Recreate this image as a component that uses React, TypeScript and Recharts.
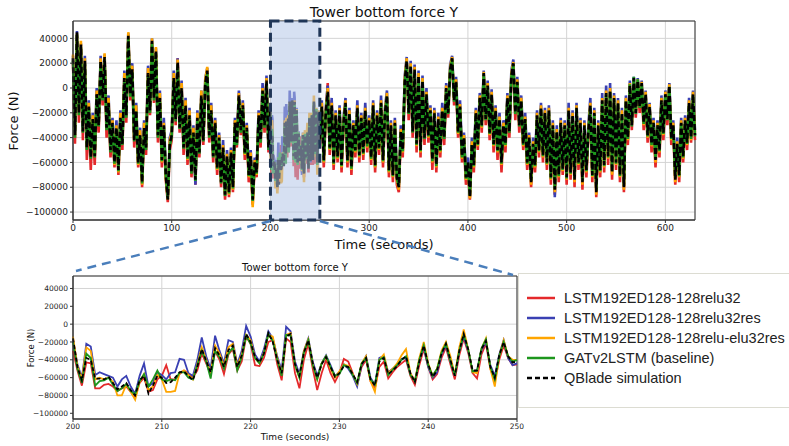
import React from "react";
import { LineChart, Line, XAxis, YAxis, CartesianGrid, ReferenceArea } from "recharts";

// Tower bottom force Y, kN. Overview arrays: every 2 s for 0–198 s, then 252–630 s
// (the 200–250 s window comes from the zoom arrays below).
const redTop = [
  20, -45, 42, -28, 32, -42, 18, -58, -22, -66,
  -30, -62, -10, -36, 18, -14, 20, -40, -18, -56,
  -32, -64, -36, -70, -28, -50, 4, -28, 40, -10,
  12, -48, -22, -64, -42, -80, -36, -54, 8, -22,
  36, -12, 27, -44, -12, -64, -34, -74, -92, -50,
  -42, 4, -30, 24, -36, -4, -54, -18, -62, -26,
  -72, -40, -78, -28, -56, -10, -46, 0, 10, -44,
  -22, -60, -32, -70, -44, -80, -52, -90, -60, -88,
  -56, -84, -32, -48, -10, -38, -18, -58, -36, -76,
  -60, -94, -64, -72, -26, -48, -6, -36, 2, -52,
  -18, -64, -24, 4, -54, -10, -66, -26, -60, -22,
  -68, -32, -16, -64, -24, -70, -34, -56, -20, -60,
  -28, -58, -22, -52, -30, -62, -18, -68, -26, -54,
  -16, -64, -24, -10, -72, -34, -76, -32, -78, -84,
  -40, -56, 0, 20, -26, 14, -40, 12, -52, 6,
  -56, 2, -46, -10, -44, -22, -66, -24, -68, -30,
  -56, -22, -46, -4, -24, 12, 22, -14, 2, -40,
  -20, -60, -46, -78, -66, -90, -50, -68, -24, -50,
  -12, -36, 10, -30, -2, -42, -10, -52, -22, -58,
  -30, -68, -34, -52, -12, -40, 6, 18, -26, 2,
  -36, -14, -50, -30, -66, -44, -80, -50, -68, -26,
  -56, -20, -60, -24, -66, -22, -78, -34, -86, -40,
  -76, -32, -70, -34, -78, -22, -74, -26, -80, -20,
  -66, -32, -82, -34, -72, -40, -18, -76, -24, -88,
  -36, -72, -14, -68, -8, -62, -6, -74, -12, -66,
  -16, -76, -24, -84, -14, -46, -2, -34, 4, -24,
  2, -20, 0, -34, -9, -44, -20, -52, -32, -64,
  -34, -56, -14, -42, -9, -30, -2, -46, -34, -78,
  -50, -76, -32, -60, -30, -50, -16, -44, -9, -42,
];

const blueTop = [
  26, -36, 46, -16, 36, -32, 26, -44, -10, -52,
  -20, -50, 0, -26, 26, -4, 27, -28, -6, -46,
  -24, -56, -26, -62, -18, -40, 14, -16, 44, 0,
  20, -38, -12, -56, -32, -72, -26, -44, 18, -12,
  40, -4, 32, -34, -2, -54, -24, -66, -88, -40,
  -34, 14, -20, 24, -26, 6, -42, -8, -52, -16,
  -62, -30, -78, -18, -48, -2, -36, 8, 16, -34,
  -12, -50, -24, -60, -36, -72, -42, -82, -50, -80,
  -48, -76, -24, -40, -2, -30, -10, -48, -28, -66,
  -50, -86, -56, -64, -18, -38, 4, -26, 10, -44,
  -10, -54, -16, 2, -44, -8, -56, -18, -50, -14,
  -58, -24, -8, -54, -16, -60, -26, -46, -10, -50,
  -20, -48, -12, -42, -22, -52, -10, -58, -18, -44,
  -6, -54, -16, -2, -62, -26, -68, -24, -68, -78,
  -30, -46, 10, 25, -16, 22, -30, 19, -40, 14,
  -46, 10, -36, 0, -34, -14, -54, -16, -58, -20,
  -46, -12, -36, 4, -16, 19, 26, -6, 9, -30,
  -10, -50, -36, -68, -56, -86, -40, -58, -16, -40,
  -4, -26, 14, -20, 6, -32, -1, -40, -14, -46,
  -20, -56, -26, -40, -4, -30, 14, 23, -16, 9,
  -26, -6, -40, -20, -56, -36, -72, -40, -58, -18,
  -46, -12, -50, -16, -56, -14, -68, -26, -88, -30,
  -66, -24, -60, -26, -68, -12, -64, -18, -70, -12,
  -56, -24, -72, -26, -62, -30, -8, -66, -16, -80,
  -26, -62, -4, -58, 2, -50, 4, -64, -4, -56,
  -8, -66, -16, -76, -6, -36, 6, -26, 9, -16,
  8, -12, 6, -24, -2, -34, -12, -42, -24, -54,
  -26, -46, -6, -32, -2, -20, 4, -36, -26, -70,
  -40, -66, -24, -50, -22, -40, -8, -36, -2, -34,
];

const orangeTop = [
  27, -34, 44, -18, 38, -30, 24, -46, -12, -54,
  -22, -52, -2, -28, 24, -6, 28, -30, -8, -48,
  -26, -62, -30, -68, -20, -42, 12, -18, 45, -2,
  18, -40, -14, -62, -34, -78, -28, -46, 16, -14,
  40, -6, 33, -36, -4, -60, -28, -72, -90, -42,
  -36, 12, -22, 23, -28, 4, -46, -10, -58, -18,
  -66, -32, -72, -20, -50, -2, -40, 7, 17, -36,
  -14, -53, -26, -66, -38, -74, -46, -84, -53, -86,
  -50, -82, -26, -42, -4, -32, -12, -54, -30, -72,
  -52, -96, -58, -70, -20, -40, 0, -28, 8, -46,
  -12, -60, -18, 0, -50, -12, -62, -20, -57, -16,
  -64, -26, -10, -60, -18, -66, -28, -52, -14, -56,
  -22, -54, -16, -48, -24, -58, -12, -64, -20, -50,
  -10, -60, -18, -4, -68, -28, -72, -26, -74, -82,
  -33, -52, 8, 24, -18, 20, -33, 17, -47, 12,
  -52, 8, -38, -3, -40, -16, -60, -18, -64, -23,
  -52, -16, -38, 2, -18, 17, 25, -8, 7, -37,
  -13, -57, -38, -74, -62, -89, -43, -64, -18, -47,
  -6, -32, 13, -23, 4, -38, -3, -47, -16, -52,
  -23, -62, -28, -47, -6, -33, 12, 21, -18, 7,
  -28, -8, -47, -23, -62, -38, -78, -43, -64, -20,
  -52, -14, -56, -18, -62, -16, -74, -28, -84, -33,
  -72, -26, -67, -28, -74, -16, -70, -20, -76, -14,
  -62, -26, -78, -28, -68, -33, -12, -72, -18, -86,
  -28, -68, -8, -64, -2, -57, 0, -70, -6, -62,
  -10, -72, -18, -82, -8, -42, 4, -28, 7, -18,
  7, -14, 5, -30, -3, -40, -13, -47, -26, -60,
  -28, -52, -8, -38, -3, -23, 3, -42, -28, -76,
  -43, -72, -26, -57, -24, -46, -10, -42, -3, -36,
];

const greenTop = [
  22, -40, 43, -22, 33, -36, 20, -50, -16, -57,
  -26, -56, -6, -31, 20, -10, 23, -34, -13, -52,
  -29, -61, -33, -67, -25, -46, 6, -24, 40, -7,
  13, -43, -19, -61, -39, -77, -33, -50, 10, -20,
  36, -10, 28, -40, -10, -59, -31, -71, -89, -47,
  -39, 6, -27, 19, -33, -2, -49, -16, -57, -24,
  -69, -37, -75, -26, -53, -8, -43, 2, 12, -40,
  -20, -56, -30, -65, -42, -77, -50, -87, -56, -85,
  -53, -81, -30, -46, -8, -36, -16, -53, -34, -71,
  -56, -91, -61, -69, -24, -44, -4, -32, 4, -50,
  -16, -59, -21, -4, -49, -15, -61, -23, -56, -19,
  -63, -29, -13, -59, -21, -65, -31, -51, -17, -55,
  -25, -53, -19, -47, -27, -57, -15, -63, -23, -49,
  -13, -59, -21, -7, -67, -31, -71, -29, -73, -79,
  -36, -51, 3, 21, -21, 17, -36, 14, -46, 8,
  -51, 5, -41, -6, -39, -19, -59, -21, -63, -26,
  -51, -19, -41, -1, -21, 14, 23, -11, 4, -36,
  -16, -56, -41, -73, -61, -87, -46, -63, -21, -46,
  -9, -31, 11, -26, 1, -37, -6, -46, -19, -51,
  -26, -61, -31, -46, -9, -36, 9, 19, -21, 4,
  -31, -11, -46, -26, -61, -41, -75, -46, -63, -23,
  -51, -17, -55, -21, -61, -19, -73, -31, -81, -36,
  -71, -29, -66, -31, -73, -19, -69, -23, -73, -17,
  -61, -29, -75, -31, -67, -36, -15, -71, -21, -83,
  -31, -67, -11, -63, -5, -56, -3, -67, -9, -61,
  -13, -71, -21, -79, -11, -41, 3, -31, 9, -21,
  7, -16, 3, -29, -6, -39, -16, -46, -29, -57,
  -31, -51, -11, -37, -6, -26, 1, -41, -31, -73,
  -46, -71, -29, -56, -27, -45, -13, -41, -6, -39,
];

const qbladeTop = [
  24, -38, 45, -20, 35, -35, 22, -48, -15, -56,
  -25, -55, -5, -30, 22, -8, 25, -32, -12, -50,
  -28, -60, -32, -66, -24, -45, 8, -22, 42, -5,
  15, -42, -18, -60, -38, -76, -32, -48, 12, -18,
  38, -8, 30, -38, -8, -58, -30, -70, -90, -45,
  -38, 8, -25, 21, -32, 0, -48, -14, -56, -22,
  -68, -36, -74, -24, -52, -6, -42, 4, 14, -38,
  -18, -55, -28, -64, -40, -76, -48, -86, -55, -84,
  -52, -80, -28, -44, -6, -34, -14, -52, -32, -70,
  -55, -90, -60, -68, -22, -42, -2, -30, 6, -48,
  -15, -58, -20, -3, -48, -14, -60, -22, -55, -18,
  -62, -28, -12, -58, -20, -64, -30, -50, -16, -54,
  -24, -52, -18, -46, -26, -56, -14, -62, -22, -48,
  -12, -58, -20, -6, -66, -30, -70, -28, -72, -80,
  -35, -50, 5, 22, -20, 18, -35, 15, -45, 10,
  -50, 6, -40, -5, -38, -18, -58, -20, -62, -25,
  -50, -18, -40, 0, -20, 15, 24, -10, 5, -35,
  -15, -55, -40, -72, -60, -88, -45, -62, -20, -45,
  -8, -30, 12, -25, 2, -36, -5, -45, -18, -50,
  -25, -60, -30, -45, -8, -35, 10, 20, -20, 5,
  -30, -10, -45, -25, -60, -40, -76, -45, -62, -22,
  -50, -16, -54, -20, -60, -18, -72, -30, -82, -35,
  -70, -28, -65, -30, -72, -18, -68, -22, -74, -16,
  -60, -28, -76, -30, -66, -35, -14, -70, -20, -84,
  -30, -66, -10, -62, -4, -55, -2, -68, -8, -60,
  -12, -70, -20, -80, -10, -40, 2, -30, 8, -20,
  6, -15, 4, -28, -5, -38, -15, -45, -28, -58,
  -30, -50, -10, -36, -5, -25, 2, -40, -30, -74,
  -45, -70, -28, -55, -26, -44, -12, -40, -5, -38,
];

// Zoom window 200–250 s, every 0.5 s, kN
const redZoom = [
  -30, -52, -69, -43, -44, -72, -72, -68, -67, -70,
  -75, -72, -70, -76, -82, -66, -60, -76, -74, -62,
  -58, -46, -62, -62, -56, -52, -55, -60, -52, -33,
  -44, -56, -30, -40, -56, -34, -28, -52, -42, -14,
  -22, -46, -47, -38, -20, -18, -45, -63, -16, -20,
  -55, -72, -40, -22, -50, -74, -55, -40, -55, -65,
  -55, -39, -42, -55, -68, -48, -40, -64, -72, -48,
  -42, -61, -54, -48, -44, -40, -58, -68, -46, -28,
  -48, -62, -56, -38, -26, -45, -62, -35, -16, -32,
  -55, -61, -34, -22, -50, -64, -40, -24, -38, -46,
  -45,
];

const blueZoom = [
  -18, -45, -60, -22, -25, -57, -54, -56, -58, -60,
  -70, -62, -58, -70, -78, -58, -44, -70, -66, -54,
  -57, -62, -55, -54, -39, -40, -55, -58, -40, -15,
  -36, -50, -13, -30, -44, -18, -20, -45, -30, -2,
  -14, -34, -42, -28, -8, -16, -36, -52, -3, -8,
  -42, -56, -30, -16, -42, -58, -44, -35, -46, -58,
  -54, -45, -50, -58, -70, -46, -36, -60, -68, -38,
  -36, -54, -50, -46, -39, -38, -56, -64, -40, -26,
  -48, -60, -54, -34, -24, -42, -58, -30, -14, -30,
  -54, -53, -30, -20, -46, -58, -34, -18, -38, -46,
  -44,
];

const orangeZoom = [
  -14, -47, -62, -26, -30, -62, -60, -62, -60, -65,
  -80, -80, -68, -76, -85, -65, -56, -74, -70, -57,
  -62, -76, -76, -75, -55, -52, -57, -62, -45, -26,
  -40, -55, -24, -33, -47, -26, -22, -47, -34, -12,
  -18, -38, -44, -32, -12, -14, -38, -56, -12, -10,
  -46, -60, -30, -17, -45, -62, -44, -36, -50, -60,
  -53, -45, -47, -56, -67, -44, -36, -64, -76, -40,
  -34, -55, -50, -44, -35, -28, -55, -64, -38, -20,
  -44, -58, -50, -30, -20, -36, -57, -26, -6, -28,
  -54, -55, -28, -16, -50, -70, -36, -18, -36, -40,
  -40,
];

const greenZoom = [
  -20, -50, -66, -33, -38, -69, -64, -63, -60, -68,
  -75, -72, -67, -75, -79, -64, -56, -70, -62, -52,
  -62, -64, -62, -63, -54, -54, -60, -62, -46, -30,
  -42, -61, -30, -37, -50, -33, -26, -52, -37, -13,
  -22, -38, -44, -33, -11, -19, -40, -58, -12, -13,
  -46, -60, -32, -18, -46, -62, -44, -36, -48, -58,
  -56, -46, -48, -57, -66, -44, -38, -62, -68, -40,
  -37, -57, -51, -46, -40, -36, -57, -64, -40, -24,
  -46, -58, -50, -32, -22, -42, -57, -30, -12, -28,
  -53, -52, -27, -17, -48, -62, -36, -20, -36, -42,
  -40,
];

const qbladeZoom = [
  -16, -48, -63, -38, -40, -61, -61, -62, -59, -66,
  -73, -70, -66, -74, -80, -63, -58, -78, -69, -58,
  -60, -66, -65, -60, -54, -53, -58, -63, -48, -28,
  -41, -54, -27, -35, -48, -29, -24, -48, -35, -11,
  -20, -37, -43, -33, -10, -20, -40, -55, -14, -11,
  -45, -58, -32, -18, -44, -60, -45, -37, -48, -59,
  -55, -47, -48, -56, -65, -45, -38, -62, -69, -42,
  -38, -56, -52, -47, -40, -36, -55, -65, -42, -24,
  -45, -59, -52, -33, -22, -40, -58, -30, -11, -28,
  -52, -52, -28, -19, -48, -60, -35, -20, -36, -43,
  -42,
];

const forceTicks = [-100000, -80000, -60000, -40000, -20000, 0, 20000, 40000];
const topTimeTicks = [0, 100, 200, 300, 400, 500, 600];
const zoomTimeTicks = [200, 210, 220, 230, 240, 250];

const series = [
  { key: "red", name: "LSTM192ED128-128relu32", color: "#e4292b", dash: undefined },
  { key: "blue", name: "LSTM192ED128-128relu32res", color: "#3a40b3", dash: undefined },
  { key: "orange", name: "LSTM192ED128-128relu-elu32res", color: "#ffa500", dash: undefined },
  { key: "green", name: "GATv2LSTM (baseline)", color: "#1d961d", dash: undefined },
  { key: "qblade", name: "QBlade simulation", color: "#000000", dash: "5 3" },
];

const topSrc: Record<string, number[]> = {
  red: redTop, blue: blueTop, orange: orangeTop, green: greenTop, qblade: qbladeTop,
};
const zoomSrc: Record<string, number[]> = {
  red: redZoom, blue: blueZoom, orange: orangeZoom, green: greenZoom, qblade: qbladeZoom,
};

const pick = (src: Record<string, number[]>, i: number, t: number) => {
  const p: Record<string, number> = { t };
  for (const k in src) p[k] = src[k][i] * 1000;
  return p;
};

const zoomData = qbladeZoom.map((_, i) => pick(zoomSrc, i, 200 + i * 0.5));
const topData = [
  ...qbladeTop.slice(0, 100).map((_, i) => pick(topSrc, i, i * 2)),
  ...zoomData,
  ...qbladeTop.slice(100).map((_, j) => pick(topSrc, j + 100, 252 + j * 2)),
];

const Y_MIN = -106400;
const Y_MAX = 54000;
const FONT = "DejaVu Sans";

const fmt = (v: number) => (v < 0 ? "\u2212" + Math.abs(v) : String(v));

// plot-area geometry (used only for the connector lines)
const TOP_L = 73;
const TOP_R = 695;
const TOP_B = 220;
const xTop = (t: number) => TOP_L + (t / 630) * (TOP_R - TOP_L);

const topMargin = { top: 21, right: 5, bottom: 10, left: 0 };

export default function App() {
  return (
    <div
      style={{
        position: "absolute",
        left: 0,
        top: 0,
        width: 789,
        height: 446,
        overflow: "hidden",
        background: "#fff",
        fontFamily: FONT,
      }}
    >
      <div style={{ position: "absolute", left: 0, top: 0 }}>
        <LineChart width={700} height={260} data={topData} margin={topMargin}>
          <CartesianGrid stroke="#d4d4d4" strokeWidth={1} />
          <XAxis
            dataKey="t"
            type="number"
            domain={[0, 630]}
            ticks={topTimeTicks}
            height={30}
            tickSize={3}
            stroke="#333"
            tick={{ fontSize: 9, fill: "#222", fontFamily: FONT }}
          />
          <YAxis
            type="number"
            domain={[Y_MIN, Y_MAX]}
            ticks={forceTicks}
            width={73}
            tickSize={3}
            stroke="#333"
            tickFormatter={fmt}
            tick={{ fontSize: 9, fill: "#222", fontFamily: FONT }}
          />
          {series.map((s) => (
            <Line
              key={s.key}
              dataKey={s.key}
              type="linear"
              stroke={s.color}
              strokeWidth={2.6}
              strokeDasharray={s.dash ? "6 3" : undefined}
              dot={false}
              activeDot={false}
              isAnimationActive={false}
            />
          ))}
          <ReferenceArea x1={0} x2={630} y1={Y_MIN} y2={Y_MAX} fill="none" stroke="#333" strokeWidth={1} />
        </LineChart>
      </div>

      {/* highlighted zoom window, laid over the lines */}
      <div style={{ position: "absolute", left: 0, top: 0 }}>
        <LineChart width={700} height={260} data={topData} margin={topMargin}>
          <XAxis dataKey="t" type="number" domain={[0, 630]} height={30} tick={false} axisLine={false} tickLine={false} />
          <YAxis type="number" domain={[Y_MIN, Y_MAX]} width={73} tick={false} axisLine={false} tickLine={false} />
          <Line
            dataKey="qblade"
            stroke="none"
            dot={false}
            activeDot={false}
            isAnimationActive={false}
          />
          <ReferenceArea
            x1={200}
            x2={250}
            y1={Y_MIN}
            y2={Y_MAX}
            ifOverflow="visible"
            fill="#b4c7e7"
            fillOpacity={0.55}
            stroke="#1f3556"
            strokeWidth={3}
            strokeDasharray="9 5"
          />
        </LineChart>
      </div>

      <div style={{ position: "absolute", left: 0, top: 260 }}>
        <LineChart width={540} height={186} data={zoomData} margin={{ top: 16, right: 23, bottom: 7, left: 0 }}>
          <CartesianGrid stroke="#d4d4d4" strokeWidth={1} />
          <XAxis
            dataKey="t"
            type="number"
            domain={[200, 250]}
            ticks={zoomTimeTicks}
            height={20}
            tickSize={3}
            stroke="#333"
            tick={{ fontSize: 7.5, fill: "#222", fontFamily: FONT }}
          />
          <YAxis
            type="number"
            domain={[Y_MIN, Y_MAX]}
            ticks={forceTicks}
            width={73}
            tickSize={3}
            stroke="#333"
            tickFormatter={fmt}
            tick={{ fontSize: 7.5, fill: "#222", fontFamily: FONT }}
          />
          {series.map((s) => (
            <Line
              key={s.key}
              dataKey={s.key}
              type="linear"
              stroke={s.color}
              strokeWidth={1.8}
              strokeDasharray={s.dash ? "4 2.5" : undefined}
              dot={false}
              activeDot={false}
              isAnimationActive={false}
            />
          ))}
          <ReferenceArea x1={200} x2={250} y1={Y_MIN} y2={Y_MAX} fill="none" stroke="#333" strokeWidth={1} />
        </LineChart>
      </div>

      <svg
        width={789}
        height={446}
        style={{ position: "absolute", left: 0, top: 0, pointerEvents: "none" }}
        fontFamily={FONT}
      >
        <text x={384} y={17} fontSize={14} textAnchor="middle" fill="#111">Tower bottom force Y</text>
        <text transform="translate(18,121) rotate(-90)" fontSize={13} textAnchor="middle" fill="#111">Force (N)</text>
        <text x={384} y={249} fontSize={13} textAnchor="middle" fill="#111">Time (seconds)</text>
        <text x={295} y={271} fontSize={10} textAnchor="middle" fill="#111">Tower bottom force Y</text>
        <text transform="translate(34,348) rotate(-90)" fontSize={8.5} textAnchor="middle" fill="#111">Force (N)</text>
        <text x={295} y={440} fontSize={9} textAnchor="middle" fill="#111">Time (seconds)</text>
        <line x1={xTop(200)} y1={TOP_B + 1} x2={76} y2={271} stroke="#4a7ebb" strokeWidth={2.5} strokeDasharray="9 6" />
        <line x1={xTop(250)} y1={TOP_B + 1} x2={513} y2={275} stroke="#4a7ebb" strokeWidth={2.5} strokeDasharray="9 6" />
      </svg>

      <div
        style={{
          position: "absolute",
          left: 518,
          top: 273,
          width: 280,
          height: 135,
          border: "1.5px solid #dcdcd2",
          background: "#fff",
          boxSizing: "border-box",
          paddingTop: 14,
          fontFamily: "Liberation Sans",
          fontSize: 14.5,
          color: "#222",
        }}
      >
        {series.map((s) => (
          <div key={s.key} style={{ height: 20, display: "flex", alignItems: "center" }}>
            <svg width={45} height={20} style={{ flex: "none" }}>
              <line
                x1={8}
                x2={36}
                y1={10}
                y2={10}
                stroke={s.color}
                strokeWidth={2.5}
                strokeDasharray={s.dash ? "5 3" : undefined}
              />
            </svg>
            <span style={{ whiteSpace: "nowrap" }}>{s.name}</span>
          </div>
        ))}
      </div>
    </div>
  );
}
